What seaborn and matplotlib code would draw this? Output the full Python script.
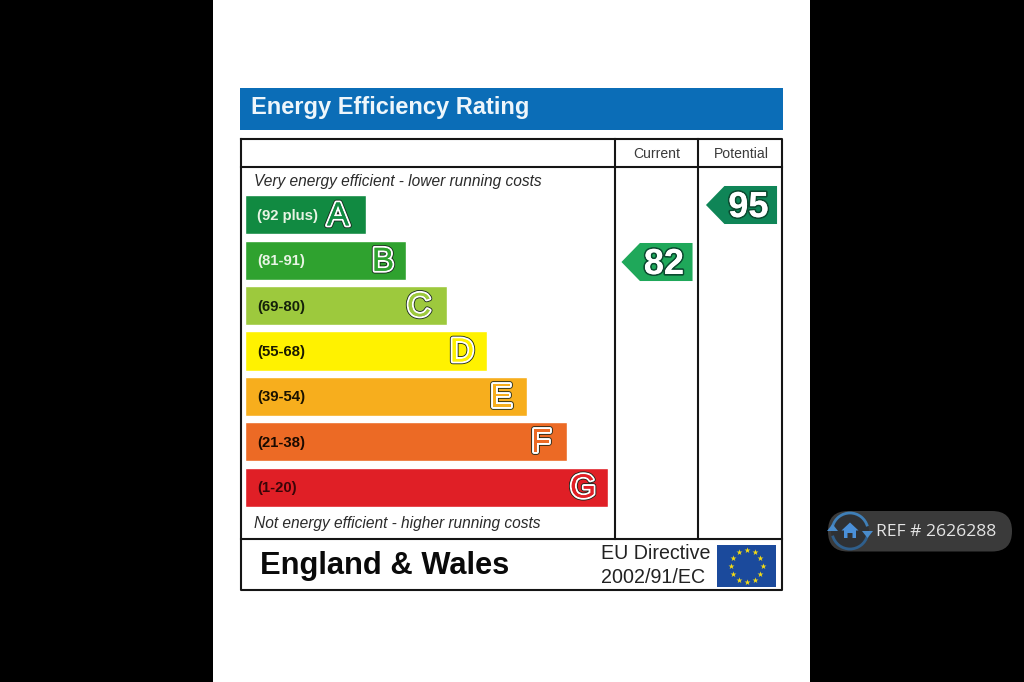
import numpy as np
import pandas as pd
import matplotlib
matplotlib.use("Agg")
import matplotlib.pyplot as plt
import matplotlib.patheffects as pe
from matplotlib.patches import Rectangle, FancyBboxPatch, Circle, Arc, Polygon
import seaborn as sns

# Rating bands, top to bottom
bands = ["A", "B", "C", "D", "E", "F", "G"]
band_ranges = ["(92 plus)", "(81-91)", "(69-80)", "(55-68)", "(39-54)", "(21-38)", "(1-20)"]
band_lengths = [121, 161, 202, 242, 282, 322, 363]
band_colors = ["#118a41", "#2fa22f", "#9dc93d", "#fff200", "#f7ae1d", "#ec6a25", "#e01f26"]
range_colors = ["#e8f4e4", "#e8f4e4", "#14200a", "#1a1a00", "#1a1200", "#1a0a00", "#3a0508"]
letter_nudge = [-28, -23, -28, -25, -26, -26, -25]

# Current and potential scores
columns = ["Current", "Potential"]
scores = [82, 95]
score_colors = ["#1fa85a", "#0f8557"]

W, H = 1024, 682
sns.set_theme(style="white")
plt.rcParams["font.family"] = ["Liberation Sans", "DejaVu Sans"]

fig = plt.figure(figsize=(W / 100, H / 100), dpi=100, facecolor="black")


def pixel_axes(left, top, right, bottom):
    ax = fig.add_axes([left / W, 1 - bottom / H, (right - left) / W, (bottom - top) / H])
    ax.patch.set_alpha(0)
    return ax


# Page, banner and table frame share a pixel-sized canvas
page = pixel_axes(0, 0, W, H)
page.set_xlim(0, W)
page.set_ylim(H, 0)
page.axis("off")
page.add_patch(Rectangle((213, 0), 597, H, fc="white", ec="none"))
page.add_patch(Rectangle((240, 88), 543, 42, fc="#0b6db7", ec="none"))
page.text(251, 107.5, "Energy Efficiency Rating", color="#eef6fb", fontsize=17,
          fontweight="bold", va="center", ha="left")

rule = dict(color="#151515", lw=1.5, solid_capstyle="projecting")
page.plot([241, 782, 782, 241, 241], [139, 139, 590, 590, 139], **rule)
page.plot([241, 782], [167, 167], **rule)
page.plot([241, 782], [539, 539], **rule)
page.plot([615, 615], [139, 539], **rule)
page.plot([698, 698], [139, 539], **rule)

page.text(254, 181.5, "Very energy efficient - lower running costs", fontsize=11.2,
          style="italic", color="#2a2a2a", va="center", ha="left")
page.text(254, 523.5, "Not energy efficient - higher running costs", fontsize=11.2,
          style="italic", color="#2a2a2a", va="center", ha="left")
page.text(260, 566, "England & Wales", fontsize=22.2, fontweight="bold",
          color="#0a0a0a", va="center", ha="left")
page.text(601, 553.5, "EU Directive", fontsize=14.1, color="#222222", va="center", ha="left")
page.text(601, 577.5, "2002/91/EC", fontsize=14.1, color="#222222", va="center", ha="left")

# EU flag with its ring of twelve stars
page.add_patch(Rectangle((717, 545), 59, 42, fc="#1b4a9c", ec="none"))
star_angles = np.deg2rad(np.arange(0, 360, 30))
page.scatter(746.5 + 16 * np.cos(star_angles), 566 + 16 * np.sin(star_angles),
             marker="*", s=20, color="#f5dc14", linewidths=0, zorder=3)

# Reference badge
page.add_patch(FancyBboxPatch((828, 511), 184, 40.5, boxstyle="round,pad=0,rounding_size=20",
                              fc="#3a3a3a", ec="none"))
page.add_patch(Circle((850, 531), 19, fc="#2f3134", ec="none"))
page.add_patch(Arc((850, 531), 36, 36, theta1=195, theta2=345, color="#3f7fb8", lw=2))
page.add_patch(Arc((850, 531), 36, 36, theta1=15, theta2=165, color="#2f5f8c", lw=2))
page.add_patch(Polygon([[827, 531], [838, 531], [832.5, 524]], fc="#4a8ccb", ec="none"))
page.add_patch(Polygon([[862, 531], [873, 531], [867.5, 538]], fc="#4a8ccb", ec="none"))
page.add_patch(Polygon([[850, 522.5], [858.5, 530.5], [856, 530.5], [856, 538], [852.5, 538],
                        [852.5, 533], [847.5, 533], [847.5, 538], [844, 538], [844, 530.5],
                        [841.5, 530.5]], fc="#4a90d9", ec="none"))
page.text(876, 532, "REF # 2626288", fontsize=12.6, family="Open Sans", color="#e4e4e4",
          va="center", ha="left")

# Rating bars
band_table = pd.DataFrame({"band": bands, "length": band_lengths})
bars = pixel_axes(245, 192.3, 608, 509.7)
sns.barplot(data=band_table, y="band", x="length", hue="band", order=bands, hue_order=bands,
            palette=band_colors, legend=False, width=39 / 45.33, saturation=1, ax=bars)
bars.set_xlim(0, 363)
bars.set_ylim(6.5, -0.5)
bars.axis("off")

for i, (label, length, fill, text_color, nudge) in enumerate(
        zip(band_ranges, band_lengths, band_colors, range_colors, letter_nudge)):
    bars.annotate(label, (12, i), xytext=(0, -0.7), textcoords="offset points", fontsize=10.7,
                  fontweight="bold", color=text_color, va="center", ha="left")
    bars.annotate(bands[i], (length + nudge, i), xytext=(0, -1.4), textcoords="offset points",
                  fontsize=24, color=fill, va="center", ha="center",
                  path_effects=[pe.withStroke(linewidth=4.0, foreground="#16241a"),
                                pe.withStroke(linewidth=2.8, foreground="white"),
                                pe.Normal()])

# Score pointers, positioned on the rating scale
pointer = [(-1, 0), (-0.48, 0.535), (1, 0.535), (1, -0.535), (-0.48, -0.535)]
score_table = pd.DataFrame({"column": columns, "score": scores})
panel = pixel_axes(614.75, 139, 783.75, 539)
sns.scatterplot(data=score_table, x="column", y="score", hue="column", palette=score_colors,
                marker=pointer, s=2620, linewidth=0, legend=False, ax=panel)
panel.set_xlim(-0.5, 1.5)
panel.set_ylim(95 - (539 - 205) / 4.385, 95 + (205 - 139) / 4.385)
panel.set_xlabel("")
panel.set_ylabel("")
panel.set_yticks([])
panel.xaxis.tick_top()
panel.tick_params(axis="x", top=False, bottom=False, length=0, pad=-15.5,
                  labelsize=10.1, labelcolor="#3a3a3a")
for spine in panel.spines.values():
    spine.set_visible(False)

for x, score in enumerate(scores):
    panel.annotate(str(score), (x, score), xytext=(5, -1.8), textcoords="offset points",
                   fontsize=26, fontweight="bold", color="white", va="center", ha="center",
                   path_effects=[pe.withStroke(linewidth=2.4, foreground="#0b4a30"), pe.Normal()])

fig.savefig("out.png", dpi=100, facecolor="black")
